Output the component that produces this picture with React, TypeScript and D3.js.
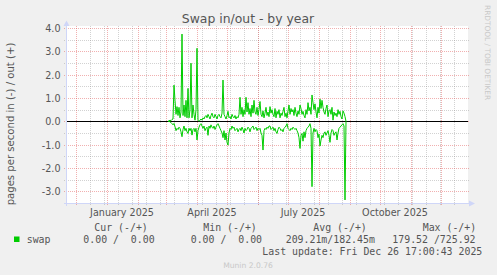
import React from 'react';
import * as d3 from 'd3';

const title = "Swap in/out - by year";
const yAxisTitle = "pages per second in (-) / out (+)";
const seriesName = "swap";
const seriesColor = "#00cc00";
const yTicks = [4, 3, 2, 1, 0, -1, -2, -3];
const yTickLabels = ["4.0", "3.0", "2.0", "1.0", "0.0", "-1.0", "-2.0", "-3.0"];
const yMinorTicks = [3.5, 2.5, 1.5, 0.5, -0.5, -1.5, -2.5];
const xLabels = ["January 2025", "April 2025", "July 2025", "October 2025"];
const xLabelMonths = [0, 3, 6, 9];
const legendHeaders = ["Cur (-/+)", "Min (-/+)", "Avg (-/+)", "Max (-/+)"];
const legendValues = ["0.00 /  0.00", "0.00 /  0.00", "209.21m/182.45m", "179.52 /725.92"];
const lastUpdate = "Last update: Fri Dec 26 17:00:43 2025";
const footer = "Munin 2.0.76";
const watermark = "RRDTOOL / TOBI OETIKER";

// daily values starting 2025-03-02
const swapOut = [
  0, 0.02, 0.05, 0.03, 0.08, 0.1, 1.55, 0.9, 0.3, 0.63,
  0.25, 0.6, 0.15, 0.4, 3.74, 0.25, 0.7, 0.2, 0.9, 0.15,
  1.41, 0.15, 0.5, 2.49, 0.15, 0.7, 0.3, 0.05, 0.5, 3.13,
  0.05, 0.0, 0.05, 0.1, 0.05, 0.15, 0.1, 0.2, 0.25, 0.15,
  0.3, 0.2, 0.1, 0.25, 0.35, 0.2, 0.15, 0.3, 0.2, 0.1,
  0.25, 0.3, 0.2, 0.15, 0.35, 1.77, 0.3, 0.2, 0.1, 0.25,
  0.43, 0.15, 0.2, 0.1, 0.3, 0.2, 0.15, 0.25, 0.1, 0.2,
  0.15, 0.3, 1.03, 0.3, 0.6, 0.2, 0.5, 0.3, 1.03, 0.4,
  0.8, 0.3, 0.55, 0.2, 0.7, 0.35, 0.9, 0.4, 0.3, 0.6,
  0.25, 0.5, 0.85, 0.3, 0.2, 0.45, 0.15, 0.35, 0.6, 0.25,
  0.4, 0.2, 0.63, 0.35, 0.5, 0.3, 0.2, 0.55, 0.15, 0.43,
  0.3, 0.5, 0.15, 0.35, 0.25, 0.43, 0.6, 0.2, 0.35, 0.15,
  0.45, 0.7, 0.3, 0.55, 0.4, 0.5, 0.25, 0.6, 0.35, 0.2,
  0.45, 0.3, 0.7, 0.55, 0.3, 0.43, 0.25, 0.15, 0.5, 0.3,
  0.8, 0.45, 0.6, 0.3, 1.13, 0.8, 0.5, 0.75, 0.4, 0.15,
  0.6, 0.35, 0.95, 0.55, 0.9, 0.6, 0.4, 0.3, 0.55, 0.7,
  0.2, 0.45, 0.5, 0.3, 0.6, 0.05, 0.4, 0.25, 0.35, 0.2,
  0.5, 0.3, 0.43, 0.2, 0.1, 0.45, 0.35, 0.2, 0
];
const swapIn = [
  0, 0, 0.02, 0.05, 0.1, 0.15, 0.09, 0.23, 0.4, 0.3,
  0.35, 0.25, 0.3, 0.45, 0.66, 0.35, 0.2, 0.4, 0.3, 0.45,
  0.52, 0.3, 0.4, 0.3, 0.59, 0.35, 0.3, 0.45, 0.3, 0.8,
  0.4, 0.25, 0.15, 0.1, 0.2, 0.3, 0.2, 0.4, 0.3, 0.25,
  0.6, 0.2, 0.3, 0.15, 0.25, 0.3, 0.2, 0.35, 0.25, 0.15,
  0.1, 0.2, 0.3, 0.4, 0.5, 0.7, 0.4, 0.8, 0.5, 0.9,
  1.02, 0.5, 0.3, 0.35, 0.2, 0.3, 0.25, 0.4, 0.35, 0.3,
  0.45, 0.35, 0.3, 0.4, 0.25, 0.35, 0.5, 0.3, 0.4, 0.35,
  0.25, 0.3, 0.45, 0.3, 0.25, 0.2, 0.35, 0.3, 0.25, 0.4,
  0.3, 0.35, 0.3, 0.5, 0.6, 1.23, 0.4, 0.3, 0.35, 0.25,
  0.3, 0.2, 0.2, 0.35, 0.3, 0.25, 0.4, 0.3, 0.45, 0.52,
  0.35, 0.25, 0.3, 0.4, 0.35, 0.45, 0.3, 0.25, 0.2, 0.1,
  0.3, 0.35, 0.4, 0.3, 0.35, 0.25, 0.3, 0.35, 0.3, 0.4,
  0.5, 0.7, 1.16, 0.6, 0.52, 0.85, 0.45, 0.7, 0.4, 0.3,
  0.25, 0.2, 0.1, 0.3, 2.8, 0.5, 0.3, 0.45, 0.35, 0.4,
  0.7, 0.55, 1.06, 0.8, 0.6, 0.7, 0.5, 0.45, 0.6, 0.5,
  0.4, 0.6, 0.9, 0.5, 0.35, 0.4, 0.6, 0.5, 0.45, 0.8,
  0.5, 0.3, 0.25, 0.2, 0.15, 0.1, 0.2, 3.37, 0
];

const W = 497, H = 275;
const L = 67, R = 467, T = 28, B = 203;
const SANS = "'DejaVu Sans', sans-serif";
const MONO = "'DejaVu Sans Mono', monospace";

export default function App() {
  const start = new Date(2024, 10, 21, 17, 0, 43);
  const end = new Date(2025, 11, 26, 17, 0, 43);
  const x = d3.scaleTime().domain([start, end]).range([L, R]);
  const y = d3.scaleLinear().domain([-3.5, 4]).range([B, T]);
  const dataStart = new Date(2025, 2, 2, 17, 0, 0);
  const dates = swapOut.map((_, i) => d3.timeDay.offset(dataStart, i));
  const lineOut = d3.line<number>().x((_, i) => x(dates[i])).y(d => y(d));
  const lineIn = d3.line<number>().x((_, i) => x(dates[i])).y(d => y(-d));

  const months = d3.timeMonth.range(d3.timeMonth.ceil(start), end);
  const minorStart = new Date(2024, 11, 15);
  const minors: Date[] = [];
  for (let d = minorStart; d < end; d = d3.timeDay.offset(d, 14)) minors.push(d);
  const px = (v: number) => Math.round(v) + 0.5;

  const gridMinor = "rgba(143,143,143,0.4)";
  const gridMajor = "rgba(225,80,80,0.45)";
  const axisColor = "#CFD6F8";
  const fontColor = "#555";

  return (
    <svg width={W} height={H} style={{ position: 'absolute', left: 0, top: 0 }}>
      <rect x={0} y={0} width={W} height={H} fill="#F0F0F0" />
      <rect x={L} y={26} width={R - L + 1} height={B - 26} fill="#FFFFFF" />
      {minors.map((d, i) => (
        <line key={'vm' + i} x1={px(x(d))} x2={px(x(d))} y1={26} y2={206} stroke={gridMinor} strokeDasharray="1,1" />
      ))}
      {yMinorTicks.map((v, i) => (
        <line key={'hm' + i} x1={64} x2={469} y1={px(y(v))} y2={px(y(v))} stroke={gridMinor} strokeDasharray="1,1" />
      ))}
      {months.map((d, i) => (
        <line key={'vM' + i} x1={px(x(d))} x2={px(x(d))} y1={26} y2={206} stroke={gridMajor} strokeDasharray="1,1" />
      ))}
      {yTicks.map((v, i) => (
        <line key={'hM' + i} x1={64} x2={469} y1={px(y(v))} y2={px(y(v))} stroke={gridMajor} strokeDasharray="1,1" />
      ))}
      <line x1={L} x2={R + 1} y1={px(y(0))} y2={px(y(0))} stroke="#000" strokeWidth={1} />
      <path d={lineOut(swapOut) || ''} fill="none" stroke={seriesColor} strokeWidth={1} />
      <path d={lineIn(swapIn) || ''} fill="none" stroke={seriesColor} strokeWidth={1} />
      <line x1={L - 0.5} x2={L - 0.5} y1={26} y2={206} stroke={axisColor} />
      <path d={`M${L - 3.5},26 L${L - 0.5},20.5 L${L + 2.5},26 Z`} fill={axisColor} />
      <line x1={64} x2={470} y1={B + 0.5} y2={B + 0.5} stroke={axisColor} />
      <path d={`M469,${B - 2.5} L475,${B + 0.5} L469,${B + 3.5} Z`} fill={axisColor} />
      {yTicks.map((v, i) => (
        <text key={'yl' + i} x={60.5} y={px(y(v)) + 3.2} textAnchor="end" fontFamily={SANS} fontSize={9.6} fill={fontColor}>{yTickLabels[i]}</text>
      ))}
      {xLabels.map((s, i) => (
        <text key={'xl' + i} x={x(new Date(2025, xLabelMonths[i], 15, 18))} y={215.5} textAnchor="middle" fontFamily={SANS} fontSize={9.6} fill={fontColor}>{s}</text>
      ))}
      <text x={248} y={22.5} textAnchor="middle" fontFamily={SANS} fontSize={12.4} fill={fontColor}>{title}</text>
      <text transform="translate(13.5,124) rotate(-90)" textAnchor="middle" fontFamily={SANS} fontSize={10.1} fill={fontColor}>{yAxisTitle}</text>
      <text transform="translate(485,5) rotate(90)" fontFamily={SANS} fontSize={7.4} fill="#C8C8C8">{watermark}</text>
      {legendHeaders.map((s, i) => (
        <text key={'lh' + i} x={[94.3, 203.3, 313.3, 422.7][i]} y={231.2} fontFamily={MONO} fontSize={9.9} fill={fontColor} style={{ whiteSpace: 'pre' }}>{s}</text>
      ))}
      <rect x={14} y={236.5} width={5.5} height={5.5} fill={seriesColor} />
      <text x={26.7} y={242.7} fontFamily={MONO} fontSize={9.9} fill={fontColor}>{seriesName}</text>
      {legendValues.map((s, i) => (
        <text key={'lv' + i} x={[83.3, 190.7, 285.7, 392.3][i]} y={242.7} fontFamily={MONO} fontSize={9.9} fill={fontColor} style={{ whiteSpace: 'pre' }}>{s}</text>
      ))}
      <text x={482.3} y={255} textAnchor="end" fontFamily={MONO} fontSize={9.9} fill={fontColor} style={{ whiteSpace: 'pre' }}>{lastUpdate}</text>
      <text x={248} y={267.5} textAnchor="middle" fontFamily={SANS} fontSize={7.6} fill="#C8C8C8">{footer}</text>
    </svg>
  );
}
